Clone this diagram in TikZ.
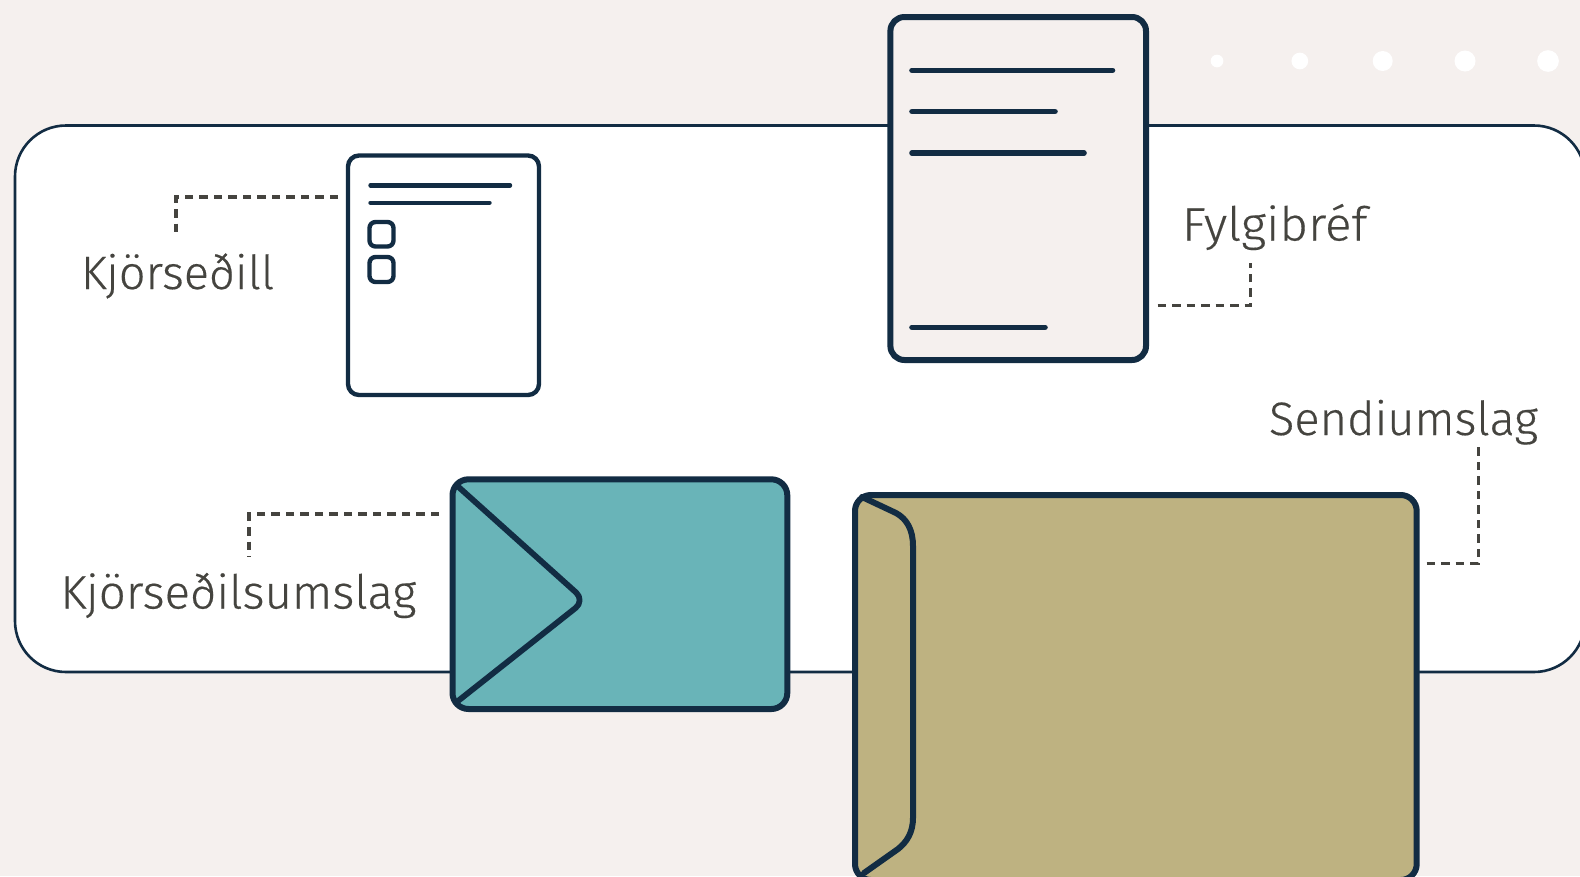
\documentclass[tikz,border=0pt]{standalone}
\usepackage{fontspec}
\setmainfont{Fira Sans}[UprightFont=* Light,FakeBold=0.35]
\definecolor{bgc}{HTML}{F5F0EE}
\definecolor{ink}{HTML}{122C43}
\definecolor{txt}{HTML}{45443F}
\definecolor{teal}{HTML}{69B4B8}
\definecolor{khaki}{HTML}{BEB281}
\tikzset{
  x=1pt,y=-1pt,
  box/.style={draw=ink,rounded corners=#1,line join=round},
  rule/.style={draw=ink,line cap=round,line width=#1},
  callout/.style={draw=txt,line width=3.2pt,dash pattern=on 8.5pt off 6pt},
  lab/.style={text=txt,anchor=base west,inner sep=0pt,outer sep=0pt,font=\fontsize{46.8}{54}\selectfont},
  dot/.style={fill=white,draw=none,circle,inner sep=0pt,minimum size=#1},
}
\begin{document}
\begin{tikzpicture}
\useasboundingbox (0,0) rectangle (1580,876);
\clip (0,0) rectangle (1580,876);
\fill[bgc] (0,0) rectangle (1580,876);
% panel
\draw[box=51pt,fill=white,line width=2.6pt] (15,125.5) rectangle (1585,672);
% dots
\node[dot=12.7pt] (d1) at (1217,61) {};
\node[dot=16.7pt] (d2) at (1299.8,61) {};
\node[dot=20pt] (d3) at (1382.7,61) {};
\node[dot=21pt] (d4) at (1465,61) {};
\node[dot=21.7pt] (d5) at (1548,61) {};
% ballot
\draw[box=11pt,line width=4.4pt] (348,155.5) rectangle (539,395);
\path[rule=4.4pt] (370.5,185.3) -- (510,185.3);
\path[rule=4.4pt] (370.5,202.7) -- (489.5,202.7);
\draw[box=6pt,line width=4.4pt] (369.5,222) rectangle (393.5,246.5);
\draw[box=6pt,line width=4.4pt] (369.5,257) rectangle (393.5,282);
% letter
\draw[box=14pt,fill=bgc,line width=6pt] (890.4,17) rectangle (1146,360);
\path[rule=5.6pt] (912,70.3) -- (1112.5,70.3);
\path[rule=5.6pt] (912,111.5) -- (1055,111.5);
\path[rule=5.6pt] (912,153) -- (1084,153);
\path[rule=5.6pt] (912,327.3) -- (1045,327.3);
% small envelope
\draw[box=16pt,fill=teal,line width=6pt] (452.5,479.3) rectangle (787.3,709);
\draw[ink,line width=5.8pt,line join=round,line cap=round,rounded corners=12pt] (458,486.5) -- (585,600.5) -- (458,701);
% big envelope
\draw[box=16pt,fill=khaki,line width=6pt] (855,495) rectangle (1416.7,880);
\draw[ink,line width=6pt,line cap=round,line join=round] (862,497) -- (896,513) .. controls (907,519) and (913,530) .. (913,546) -- (913,818) .. controls (913,832) and (907,842) .. (898,849) -- (864,873);
% labels
\node[lab] (kjor) at (81,289) {Kjörseðill};
\node[lab] (fylgi) at (1182,240.5) {\scalebox{1.055}[1]{Fylgibréf}};
\node[lab] (send) at (1269,435) {\scalebox{1.005}[1]{Sendiumslag}};
\node[lab] (kjorum) at (60.5,608.5) {\scalebox{1.012}[1]{Kjörseðilsumslag}};
% connectors
\coordinate (c1a) at (176,235);
\coordinate (c1b) at (338,197);
\draw[callout] (c1b) -| (c1a);
\coordinate (c2a) at (1250.4,263);
\coordinate (c2b) at (1157.6,305.5);
\draw[callout] (c2b) -| (c2a);
\coordinate (c3a) at (1478.3,447);
\coordinate (c3b) at (1426.7,563.5);
\draw[callout] (c3b) -| (c3a);
\coordinate (c4a) at (249,556.7);
\coordinate (c4b) at (439,514);
\draw[callout] (c4b) -| (c4a);
\end{tikzpicture}
\end{document}
